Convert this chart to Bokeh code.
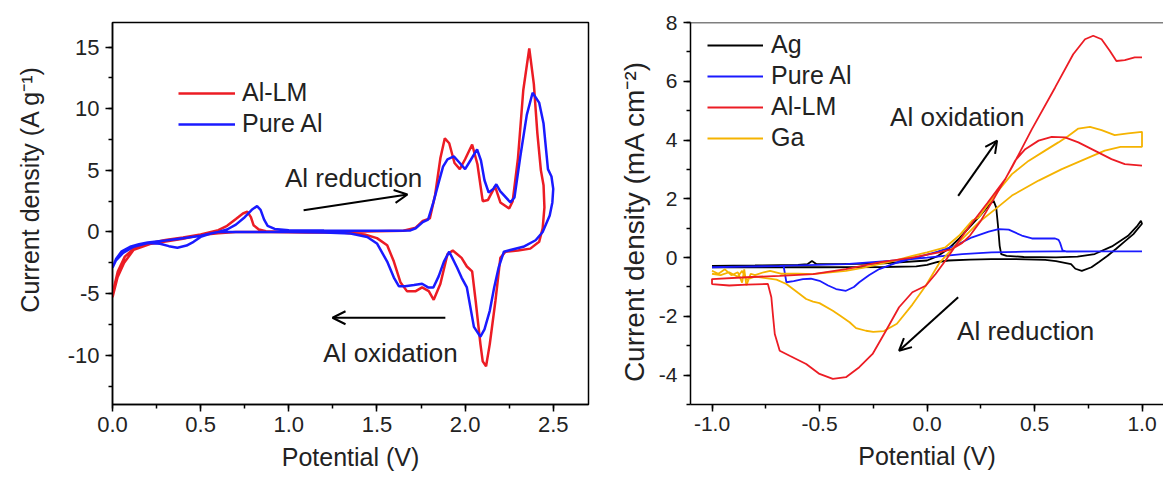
import math
from bokeh.plotting import figure
from bokeh.layouts import row
from bokeh.models import (Range1d, SingleIntervalTicker, NumeralTickFormatter, Legend,
                          LegendItem, Label, Arrow, OpenHead, Span)
from bokeh.embed import file_html
from bokeh.resources import INLINE

FONT = "Liberation Sans"
NBSP = "\u00a0"

# ---------------- Left panel data: CV of Al-LM and Pure Al (A g^-1 vs V) ----------------
lm_fwd_v = [0.0, 0.01, 0.03, 0.07, 0.12, 0.2, 0.3, 0.4, 0.5, 0.6, 0.65, 0.7, 0.74, 0.765, 0.785,
            0.80, 0.83, 0.87, 0.95, 1.1, 1.3, 1.5, 1.65, 1.72, 1.76, 1.8, 1.83, 1.86, 1.885, 1.91,
            1.94, 1.97, 2.0, 2.04, 2.07, 2.1, 2.13, 2.17, 2.2, 2.25, 2.27, 2.3, 2.33, 2.364, 2.39,
            2.41, 2.43, 2.445, 2.45]
lm_fwd_i = [-5.3, -4.4, -3.2, -2.0, -1.35, -0.95, -0.65, -0.45, -0.2, 0.15, 0.5, 1.05, 1.5, 1.65, 1.2,
            0.55, 0.2, 0.06, 0.02, 0.0, 0.0, 0.05, 0.1, 0.35, 0.9, 1.1, 3.0, 6.0, 7.6, 7.2,
            5.6, 5.1, 5.9, 7.1, 5.5, 2.5, 2.6, 3.7, 2.4, 1.9, 2.5, 6.0, 11.5, 14.9, 12.0,
            8.0, 5.0, 3.8, 2.0]
lm_rev_v = [2.44, 2.42, 2.37, 2.3, 2.229, 2.2, 2.172, 2.14, 2.119, 2.1, 2.087, 2.06, 2.04, 2.01,
            1.98, 1.93, 1.90, 1.86, 1.822, 1.794, 1.756, 1.72, 1.67, 1.634, 1.596, 1.558, 1.5,
            1.43, 1.3, 1.1, 0.9, 0.7, 0.6, 0.5, 0.4, 0.31, 0.22, 0.12, 0.066, 0.028, 0.0]
lm_rev_i = [0.3, -0.8, -1.35, -1.5, -1.6, -2.1, -5.6, -9.1, -10.9, -10.5, -9.1, -5.6, -3.2, -2.8,
            -2.1, -1.5, -1.8, -4.2, -5.5, -4.8, -4.5, -4.8, -4.8, -4.1, -2.4, -1.07, -0.5,
            -0.2, -0.05, -0.05, 0.0, 0.0, -0.1, -0.25, -0.55, -0.75, -0.95, -1.45, -2.5, -3.7, -5.3]

al_fwd_v = [0.0, 0.02, 0.05, 0.1, 0.15, 0.2, 0.3, 0.4, 0.5, 0.55, 0.6, 0.65, 0.7, 0.75, 0.79, 0.82,
            0.84, 0.86, 0.88, 0.92, 1.0, 1.2, 1.4, 1.6, 1.69, 1.72, 1.76, 1.79, 1.82, 1.85, 1.875,
            1.9, 1.936, 1.97, 2.0, 2.03, 2.068, 2.09, 2.11, 2.134, 2.16, 2.177, 2.2, 2.257, 2.28,
            2.313, 2.35, 2.383, 2.42, 2.445, 2.47, 2.49, 2.5]
al_fwd_i = [-2.9, -2.2, -1.6, -1.2, -1.0, -0.85, -0.7, -0.5, -0.3, -0.15, 0.0, 0.2, 0.6, 1.2, 1.8, 2.1,
            1.8, 1.0, 0.5, 0.25, 0.15, 0.12, 0.1, 0.1, 0.13, 0.3, 0.8, 1.0, 2.4, 4.0, 5.3,
            5.9, 6.13, 5.6, 5.1, 5.8, 6.7, 5.8, 4.2, 3.2, 3.5, 3.87, 3.3, 2.4, 2.8,
            6.1, 9.5, 11.3, 10.5, 8.8, 5.1, 4.5, 3.5]
al_rev_v = [2.495, 2.48, 2.44, 2.4, 2.33, 2.22, 2.19, 2.165, 2.14, 2.11, 2.087, 2.05, 2.01, 1.98,
            1.955, 1.91, 1.88, 1.85, 1.82, 1.79, 1.756, 1.71, 1.66, 1.624, 1.596, 1.558, 1.5,
            1.445, 1.35, 1.2, 1.0, 0.8, 0.6, 0.557, 0.5, 0.46, 0.42, 0.368, 0.32, 0.27, 0.2,
            0.12, 0.06, 0.02, 0.0]
al_rev_i = [2.4, 1.33, 0.0, -0.67, -1.2, -1.6, -2.9, -4.5, -6.4, -7.9, -8.5, -7.7, -4.5, -3.7,
            -2.9, -1.6, -2.4, -3.6, -4.5, -4.5, -4.2, -4.3, -4.4, -4.4, -3.7, -2.4, -0.93,
            -0.4, -0.13, -0.05, 0.0, 0.0, 0.0, -0.13, -0.4, -0.8, -1.1, -1.28, -1.15, -0.95, -0.9,
            -1.2, -1.7, -2.3, -2.9]

# ---------------- Right panel data: CV of Ag, Pure Al, Al-LM, Ga (mA cm^-2 vs V) ----------------
ag_v = [-1.0, -0.8, -0.6, -0.555, -0.535, -0.515, -0.4, -0.2, 0.0, 0.05, 0.1, 0.15, 0.2, 0.25, 0.29,
        0.31, 0.322, 0.33, 0.338, 0.345, 0.37, 0.45, 0.6, 0.7, 0.78, 0.86, 0.935, 0.975, 0.995, 1.0,
        0.96, 0.92, 0.88, 0.84, 0.8, 0.765, 0.72, 0.69, 0.67, 0.6, 0.55, 0.4, 0.3, 0.2, 0.1,
        0.05, 0.0, -0.05, -0.2, -0.5, -0.8, -1.0]
ag_i = [-0.28, -0.27, -0.25, -0.22, -0.12, -0.22, -0.22, -0.2, -0.1, 0.05, 0.3, 0.65, 1.05, 1.45, 1.8,
        1.93, 1.7, 1.1, 0.4, 0.12, 0.06, 0.02, 0.01, 0.03, 0.12, 0.38, 0.74, 1.05, 1.25, 1.15,
        0.8, 0.55, 0.3, 0.06, -0.15, -0.33, -0.45, -0.38, -0.22, -0.12, -0.08, -0.05, -0.05, -0.07, -0.1,
        -0.15, -0.25, -0.3, -0.32, -0.33, -0.33, -0.33]

pal_v = [-1.0, -0.85, -0.7, -0.667, -0.654, -0.62, -0.577, -0.54, -0.5, -0.46, -0.423, -0.377, -0.34,
         -0.315, -0.27, -0.222, -0.15, -0.05, 0.05, 0.133, 0.21, 0.287, 0.333, 0.38, 0.441, 0.488,
         0.55, 0.596, 0.612, 0.619, 0.63, 0.65, 0.8, 1.0,
         0.8, 0.6, 0.45, 0.3, 0.164, 0.0, -0.145, -0.377, -0.685, -1.0]
pal_i = [-0.33, -0.31, -0.29, -0.28, -0.84, -0.8, -0.73, -0.72, -0.79, -0.95, -1.07, -1.13, -1.0,
         -0.84, -0.6, -0.39, -0.2, 0.0, 0.2, 0.41, 0.69, 0.88, 0.97, 0.95, 0.75, 0.65,
         0.65, 0.65, 0.6, 0.5, 0.25, 0.2, 0.21, 0.21,
         0.21, 0.21, 0.2, 0.18, 0.12, 0.0, -0.1, -0.22, -0.28, -0.33]

lm2_v = [1.0, 0.92, 0.858, 0.78, 0.704, 0.642, 0.58, 0.519, 0.457, 0.41, 0.364, 0.28, 0.194, 0.133,
         0.086, 0.04, -0.006, -0.068, -0.13, -0.191, -0.253, -0.315, -0.377, -0.438, -0.5, -0.562,
         -0.639, -0.685, -0.708, -0.716, -0.724, -0.74, -0.84, -0.92, -1.0,
         -1.0, -0.84, -0.685, -0.53, -0.377, -0.222, -0.068, 0.056, 0.117, 0.164, 0.2, 0.25, 0.31,
         0.395, 0.488, 0.596, 0.68, 0.735, 0.773, 0.812, 0.85, 0.881, 0.92, 0.966, 1.0]
lm2_i = [3.13, 3.18, 3.35, 3.64, 3.92, 4.09, 4.11, 3.98, 3.69, 3.3, 2.67, 1.85, 1.03, 0.4,
         -0.1, -0.56, -0.96, -1.18, -1.69, -2.49, -3.28, -3.73, -4.07, -4.13, -3.96, -3.62,
         -3.34, -3.17, -2.6, -2.0, -1.35, -0.9, -0.92, -0.95, -0.9,
         -0.73, -0.67, -0.62, -0.56, -0.39, -0.16, 0.0, 0.18, 0.29, 0.5, 0.75, 1.25, 1.99,
         3.07, 4.37, 5.79, 6.92, 7.43, 7.55, 7.43, 7.04, 6.69, 6.72, 6.81, 6.81]

ga_v = [-1.0, -0.97, -0.94, -0.91, -0.88, -0.86, -0.85, -0.84, -0.82, -0.8, -0.76, -0.73, -0.68,
        -0.6, -0.53, -0.45, -0.377, -0.3, -0.222, -0.15, -0.068, 0.0, 0.086, 0.15, 0.21, 0.241,
        0.318, 0.395, 0.472, 0.549, 0.611, 0.657, 0.704, 0.758, 0.812, 0.873, 0.935, 1.0,
        1.0, 0.9, 0.827, 0.735, 0.627, 0.519, 0.395, 0.318, 0.241, 0.179, 0.117, 0.056, -0.006,
        -0.068, -0.14, -0.2, -0.25, -0.284, -0.33, -0.36, -0.4, -0.438, -0.5, -0.53, -0.562,
        -0.6, -0.654, -0.7, -0.75, -0.8, -0.84, -0.86, -0.88, -0.92, -0.96, -1.0]
ga_i = [-0.45, -0.55, -0.4, -0.6, -0.5, -0.85, -0.4, -0.95, -0.55, -0.6, -0.5, -0.45, -0.55,
        -0.55, -0.56, -0.5, -0.45, -0.35, -0.22, -0.1, 0.06, 0.18, 0.35, 0.75, 1.26, 1.37,
        2.16, 2.84, 3.29, 3.64, 3.92, 4.14, 4.39, 4.45, 4.34, 4.17, 4.23, 4.28,
        3.77, 3.77, 3.64, 3.35, 3.01, 2.62, 2.11, 1.65, 1.2, 0.75, 0.3, -0.2, -0.96,
        -1.6, -2.25, -2.5, -2.53, -2.49, -2.4, -2.2, -2.0, -1.81, -1.55, -1.5, -1.41,
        -1.2, -0.9, -0.75, -0.7, -0.65, -0.75, -0.45, -0.65, -0.5, -0.6, -0.55]

RED = "#ec1c24"
BLUE = "#1a1aff"
GOLD = "#f5b301"
BLACK = "#000000"
TXT = "#222222"


def style_axes(p, tick_size):
    for ax in (p.xaxis[0], p.yaxis[0]):
        ax.axis_line_width = 1.5
        ax.axis_line_color = "black"
        ax.major_tick_line_width = 1.5
        ax.minor_tick_line_width = 1.5
        ax.major_tick_in = 0
        ax.major_tick_out = 7
        ax.minor_tick_in = 0
        ax.minor_tick_out = 4
        ax.major_label_text_font = FONT
        ax.major_label_text_font_size = tick_size
        ax.major_label_text_color = TXT
        ax.axis_label_text_font = FONT
        ax.axis_label_text_font_size = "25px"
        ax.axis_label_text_font_style = "normal"
        ax.axis_label_text_color = TXT
    p.xaxis.major_label_standoff = 5
    p.yaxis.major_label_standoff = 6
    p.xaxis.axis_label_standoff = 8
    p.xgrid.visible = False
    p.ygrid.visible = False


# ---------------- Left figure ----------------
p1 = figure(width=600, height=479, x_range=Range1d(0, 2.7), y_range=Range1d(-14, 17),
            output_backend="svg", toolbar_location=None,
            min_border_left=112, min_border_right=12, min_border_top=18, min_border_bottom=74)
p1.background_fill_color = "white"
p1.border_fill_color = "white"
p1.outline_line_color = "black"
p1.outline_line_width = 1.5
p1.outline_line_alpha = 1.0
p1.xaxis.ticker = SingleIntervalTicker(interval=0.5, num_minor_ticks=2)
p1.xaxis.formatter = NumeralTickFormatter(format="0.0")
p1.yaxis.ticker = SingleIntervalTicker(interval=5, num_minor_ticks=2)
p1.yaxis.formatter = NumeralTickFormatter(format="0")
p1.xaxis.axis_label = "Potential (V)"
p1.yaxis.axis_label = NBSP * 7 + "Current density (A g\u207b\u00b9)"
style_axes(p1, "22px")
p1.yaxis.axis_label_standoff = 21

r_lm = p1.line(lm_fwd_v + lm_rev_v, lm_fwd_i + lm_rev_i, line_color=RED, line_width=2.5)
r_al = p1.line(al_fwd_v + al_rev_v, al_fwd_i + al_rev_i, line_color=BLUE, line_width=2.5)

leg1 = Legend(items=[LegendItem(label="Al-LM", renderers=[r_lm]),
                     LegendItem(label="Pure Al", renderers=[r_al])],
              location=(66, 266), glyph_width=57, glyph_height=26, label_standoff=7,
              spacing=2, padding=0, margin=0, border_line_color=None,
              background_fill_alpha=0, label_text_font=FONT, label_text_font_size="25px",
              label_text_color=TXT)
p1.add_layout(leg1)

p1.add_layout(Label(x=1.368, y=4.4, text="Al reduction", text_align="center",
                    text_baseline="middle", text_font=FONT, text_font_size="26px",
                    text_color=TXT))
p1.add_layout(Label(x=1.577, y=-9.84, text="Al oxidation", text_align="center",
                    text_baseline="middle", text_font=FONT, text_font_size="26px",
                    text_color=TXT))
p1.add_layout(Arrow(end=OpenHead(size=13, line_width=2), x_start=1.084, y_start=1.76,
                    x_end=1.673, y_end=3.04, line_width=2))
p1.add_layout(Arrow(end=OpenHead(size=13, line_width=2), x_start=1.888, y_start=-6.96,
                    x_end=1.248, y_end=-6.96, line_width=2))

# ---------------- Right figure ----------------
p2 = figure(width=563, height=479, x_range=Range1d(-1.1, 1.1), y_range=Range1d(-5, 8),
            output_backend="svg", toolbar_location=None,
            min_border_left=90, min_border_right=0, min_border_top=22, min_border_bottom=75)
p2.background_fill_color = "white"
p2.border_fill_color = "white"
p2.outline_line_color = None
p2.xaxis.ticker = SingleIntervalTicker(interval=0.5, num_minor_ticks=2)
p2.xaxis.formatter = NumeralTickFormatter(format="0.0")
p2.yaxis.ticker = SingleIntervalTicker(interval=2, num_minor_ticks=2)
p2.yaxis.formatter = NumeralTickFormatter(format="0")
p2.xaxis.axis_label = "Potential (V)"
p2.yaxis.axis_label = "Current density (mA cm\u207b\u00b2)" + NBSP * 2
style_axes(p2, "21px")
p2.yaxis.axis_label_text_font_size = "28px"
p2.yaxis.axis_label_standoff = 6
p2.add_layout(Span(location=8, dimension="width", line_color="black", line_width=1.5))

r_ag = p2.line(ag_v, ag_i, line_color=BLACK, line_width=1.8)
r_pal = p2.line(pal_v, pal_i, line_color=BLUE, line_width=1.8)
r_ga = p2.line(ga_v, ga_i, line_color=GOLD, line_width=1.8)
r_lm2 = p2.line(lm2_v, lm2_i, line_color=RED, line_width=1.8)

leg2 = Legend(items=[LegendItem(label="Ag", renderers=[r_ag]),
                     LegendItem(label="Pure Al", renderers=[r_pal]),
                     LegendItem(label="Al-LM", renderers=[r_lm2]),
                     LegendItem(label="Ga", renderers=[r_ga])],
              location=(17, 252), glyph_width=56, glyph_height=26, label_standoff=8,
              spacing=2, padding=0, margin=0, border_line_color=None,
              background_fill_alpha=0, label_text_font=FONT, label_text_font_size="25px",
              label_text_color=TXT)
p2.add_layout(leg2)

p2.add_layout(Label(x=0.141, y=4.77, text="Al oxidation", text_align="center",
                    text_baseline="middle", text_font=FONT, text_font_size="26px",
                    text_color=TXT))
p2.add_layout(Label(x=0.459, y=-2.49, text="Al reduction", text_align="center",
                    text_baseline="middle", text_font=FONT, text_font_size="26px",
                    text_color=TXT))
p2.add_layout(Arrow(end=OpenHead(size=12, line_width=2), x_start=0.145, y_start=2.1,
                    x_end=0.326, y_end=3.98, line_width=2))
p2.add_layout(Arrow(end=OpenHead(size=12, line_width=2), x_start=0.145, y_start=-1.35,
                    x_end=-0.13, y_end=-3.17, line_width=2))

layout = row(p1, p2)
open("out.html", "w").write(file_html(layout, INLINE))
